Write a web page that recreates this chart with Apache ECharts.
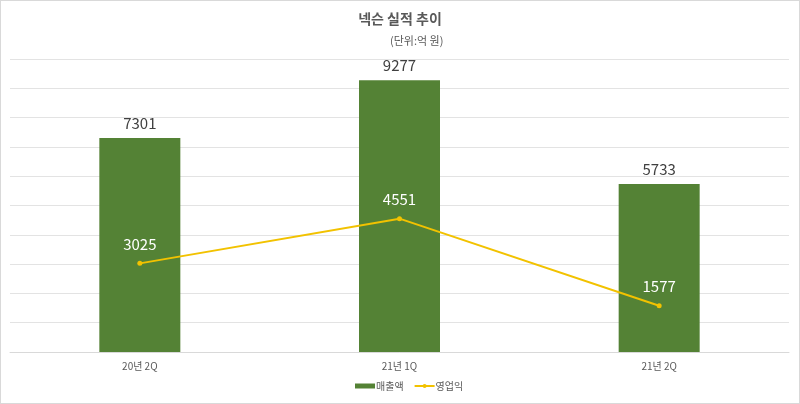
<!DOCTYPE html>
<html><head><meta charset="utf-8">
<script src="https://cdn.jsdelivr.net/npm/echarts@6/dist/echarts.min.js"></script>
<style>html,body{margin:0;padding:0;background:#fff}#c{width:800px;height:404px}#b{position:absolute;left:0;top:0;width:798px;height:402px;border:1px solid #d9d9d9;pointer-events:none}</style>
</head><body><div id="c"></div><div id="b"></div>
<script>
const categories = ['20년 2Q', '21년 1Q', '21년 2Q'];
const revenue = [7301, 9277, 5733];
const operatingProfit = [3025, 4551, 1577];
const seriesNames = ['매출액', '영업익'];
const font = '"Noto Sans CJK KR", "Noto Sans", sans-serif';
const chart = echarts.init(document.getElementById('c'));
chart.setOption({
  animation: false,
  textStyle: { fontFamily: font },
  title: [
    { text: '넥슨 실적 추이', left: 'center', top: 7, textStyle: { fontFamily: font, fontSize: 14, fontWeight: 'bold', color: '#595959' } },
    { text: '(단위:억 원)', left: 385, top: 30, textStyle: { fontFamily: font, fontSize: 11, fontWeight: 'normal', color: '#595959' } }
  ],
  grid: { left: 10, right: 11, top: 59, bottom: 52, containLabel: false },
  legend: {
    bottom: 8, left: 350, itemWidth: 20, itemHeight: 5, itemGap: 10,
    textStyle: { fontFamily: font, fontSize: 10, color: '#595959', padding: [0, 0, 0, -4] },
    data: [{ name: seriesNames[0], icon: 'rect' }, { name: seriesNames[1] }]
  },
  xAxis: {
    type: 'category', data: categories,
    axisLine: { lineStyle: { color: '#d9d9d9' } },
    axisTick: { show: false },
    axisLabel: { fontFamily: font, fontSize: 10, color: '#595959', margin: 9 }
  },
  yAxis: {
    type: 'value', min: 0, max: 10000, interval: 1000,
    axisLabel: { show: false }, axisLine: { show: false }, axisTick: { show: false },
    splitLine: { lineStyle: { color: '#e3e3e3' } }
  },
  series: [
    {
      name: seriesNames[0], type: 'bar', data: revenue, barWidth: 81,
      itemStyle: { color: '#548235' },
      label: { show: true, position: 'top', distance: 7, fontFamily: font, fontSize: 15, color: '#404040' }
    },
    {
      name: seriesNames[1], type: 'line', data: operatingProfit,
      symbol: 'circle', symbolSize: 5,
      lineStyle: { color: '#F2C200', width: 2 }, itemStyle: { color: '#F2C200' },
      label: { show: true, position: 'top', distance: 9, fontFamily: font, fontSize: 15, color: '#ffffff' }
    }
  ]
});
</script></body></html>
